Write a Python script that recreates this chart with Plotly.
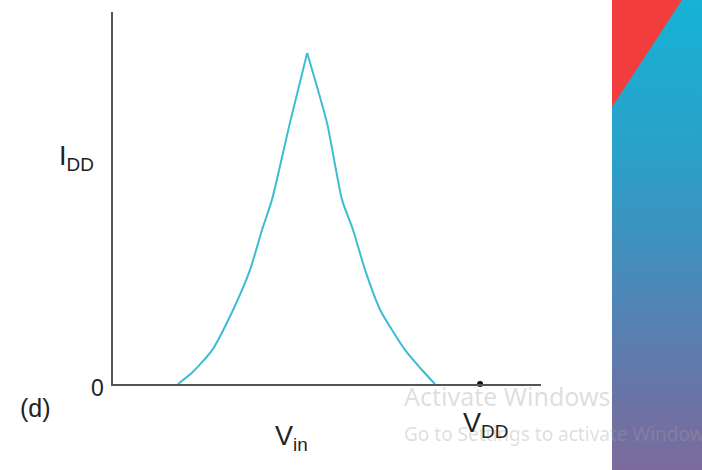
import base64
import plotly.graph_objects as go

# Data (Vin normalised to VDD = 1, IDD normalised to axis height)
vin_rise = [0.177, 0.215, 0.270, 0.327, 0.373, 0.406, 0.433, 0.482, 0.529]
idd_rise = [0.000, 0.030, 0.091, 0.199, 0.306, 0.414, 0.495, 0.702, 0.890]
vin_fall = [0.529, 0.583, 0.624, 0.654, 0.687, 0.728, 0.796, 0.837, 0.877]
idd_fall = [0.890, 0.702, 0.495, 0.414, 0.306, 0.199, 0.091, 0.043, 0.000]
vdd_point_x = [1.0]
vdd_point_y = [0.0]

CURVE = "#3bbdd2"
AX = "#555555"

fig = go.Figure()
for xs, ys in ((vin_rise, idd_rise), (vin_fall, idd_fall)):
    fig.add_trace(go.Scatter(x=xs, y=ys, mode="lines",
                             line=dict(color=CURVE, width=2, shape="spline", smoothing=0.6),
                             showlegend=False, hoverinfo="skip"))
fig.add_trace(go.Scatter(x=vdd_point_x, y=vdd_point_y, mode="markers",
                         marker=dict(color="#111111", size=6), showlegend=False,
                         hoverinfo="skip", cliponaxis=False))

L, R, T, B = 113, 161, 12, 86
PW, PH = 702 - L - R, 470 - T - B


def px(x):
    return (x - L) / PW


def py(y):
    return (T + PH - y) / PH


svg = (
    '<svg xmlns="http://www.w3.org/2000/svg" width="90" height="470" viewBox="0 0 90 470" preserveAspectRatio="none">'
    '<defs><linearGradient id="g" x1="0" y1="0" x2="0" y2="1">'
    '<stop offset="0" stop-color="#16b2d6"/>'
    '<stop offset="0.35" stop-color="#2c9fc7"/>'
    '<stop offset="0.6" stop-color="#4a89b9"/>'
    '<stop offset="0.82" stop-color="#6676a8"/>'
    '<stop offset="1" stop-color="#7d6a9c"/>'
    '</linearGradient></defs>'
    '<rect x="0" y="0" width="90" height="470" fill="url(#g)"/>'
    '<polygon points="0,0 70,0 0,107" fill="#f23d3d"/>'
    '</svg>'
)
src = "data:image/svg+xml;base64," + base64.b64encode(svg.encode()).decode()

fig.add_layout_image(dict(source=src, xref="paper", yref="paper",
                          x=px(612), y=py(0), sizex=90 / PW, sizey=470 / PH,
                          xanchor="left", yanchor="top", sizing="stretch", layer="above"))

font = "Arial, Liberation Sans, sans-serif"
wm = "Noto Sans, Open Sans, sans-serif"
WMC = "rgba(160,160,160,0.35)"
ann = [
    dict(text="Activate Windows", x=px(402), y=py(396), xanchor="left", yanchor="middle",
         font=dict(family=wm, size=25, color=WMC)),
    dict(text="Go to Settings to activate Windows.", x=px(402), y=py(434), xanchor="left",
         yanchor="middle", font=dict(family=wm, size=19, color=WMC)),
    dict(text="I<sub>DD</sub>", x=px(76), y=py(158), xanchor="center", yanchor="middle",
         font=dict(family=font, size=27, color="#222222")),
    dict(text="0", x=px(97), y=py(388), xanchor="center", yanchor="middle",
         font=dict(family=font, size=23, color="#222222")),
    dict(text="(d)", x=px(35), y=py(408), xanchor="center", yanchor="middle",
         font=dict(family=font, size=25, color="#222222")),
    dict(text="V<sub>in</sub>", x=px(291), y=py(438), xanchor="center", yanchor="middle",
         font=dict(family=font, size=27, color="#222222")),
    dict(text="V<sub>DD</sub>", x=px(485), y=py(425), xanchor="center", yanchor="middle",
         font=dict(family=font, size=27, color="#222222")),
]
for a in ann:
    a.update(xref="paper", yref="paper", showarrow=False)
fig.update_layout(annotations=ann)

fig.update_layout(
    width=702, height=470,
    margin=dict(l=L, r=R, t=T, b=B),
    paper_bgcolor="white", plot_bgcolor="white",
    xaxis=dict(range=[0, 1.166], showline=True, linecolor=AX, linewidth=2,
               showgrid=False, zeroline=False, showticklabels=False, ticks=""),
    yaxis=dict(range=[0, 1], showline=True, linecolor=AX, linewidth=2,
               showgrid=False, zeroline=False, showticklabels=False, ticks=""),
)

fig.write_html("out.html", config={"displayModeBar": False},
               post_script="document.body.style.margin='0';")
